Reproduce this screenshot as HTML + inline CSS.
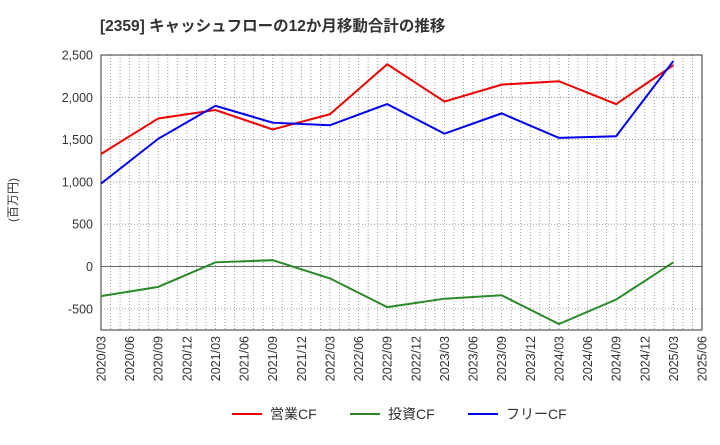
<!DOCTYPE html>
<html><head><meta charset="utf-8"><style>
body{margin:0;background:#fff;font-family:"Liberation Sans","Noto Sans CJK JP",sans-serif;}
</style></head><body>
<svg id="c" width="720" height="440" xmlns="http://www.w3.org/2000/svg">
<text x="100" y="31" font-size="15.5" font-weight="bold" fill="#333">[2359]  キャッシュフローの12か月移動合計の推移</text>
<text transform="translate(17,200) rotate(-90)" font-size="12" fill="#333" text-anchor="middle">(百万円)</text>
<g id="grid"></g><g id="axes"></g><g id="series"></g>
<g>
<line x1="232" y1="414" x2="262" y2="414" stroke="#e00" stroke-width="2"/><text x="270" y="419" font-size="14" fill="#333">営業CF</text>
<line x1="350" y1="414" x2="380" y2="414" stroke="#2a8a2a" stroke-width="2"/><text x="388" y="419" font-size="14" fill="#333">投資CF</text>
<line x1="468" y1="414" x2="498" y2="414" stroke="#00e" stroke-width="2"/><text x="506" y="419" font-size="14" fill="#333">フリーCF</text>
</g>
</svg>
<script>
const periods=["2020/03","2020/09","2021/03","2021/09","2022/03","2022/09","2023/03","2023/09","2024/03","2024/09","2025/03"];
const opCF=[1330,1750,1850,1620,1800,2390,1950,2150,2190,1920,2380];
const invCF=[-350,-240,50,75,-140,-480,-380,-340,-680,-390,50];
const freeCF=[980,1510,1900,1700,1670,1920,1570,1810,1520,1540,2430];
const yTicks=[2500,2000,1500,1000,500,0,-500];
const xTicks=["2020/03","2020/06","2020/09","2020/12","2021/03","2021/06","2021/09","2021/12","2022/03","2022/06","2022/09","2022/12","2023/03","2023/06","2023/09","2023/12","2024/03","2024/06","2024/09","2024/12","2025/03","2025/06"];
const NS="http://www.w3.org/2000/svg";
const L=101,R=702,T=55,B=330,yMax=2500,yMin=-750;
const qW=(R-L)/21;
function mIdx(p){const[a,b]=p.split("/").map(Number);return (a-2020)*12+(b-3);}
function X(p){return L+mIdx(p)/3*qW;}
function Y(v){return T+(yMax-v)/(yMax-yMin)*(B-T);}
function mk(t,a,parent){const e=document.createElementNS(NS,t);for(const k in a)e.setAttribute(k,a[k]);document.getElementById(parent).appendChild(e);return e;}
for(let m=1;m<63;m++){const x=L+m/3*qW;
const g=mk("line",{x1:x,y1:T,x2:x,y2:B,stroke:"#888","stroke-width":0.8,"stroke-dasharray":"1,2"},"grid");

}
yTicks.forEach(v=>{const y=Y(v);
const g=mk("line",{x1:L,y1:y,x2:R,y2:y,stroke:v===0?"#666":"#888","stroke-width":v===0?1:0.8,"stroke-dasharray":v===0?"":"1,2"},"grid");


const t=mk("text",{x:L-8,y:y+4.5,"font-size":12.5,fill:"#333","text-anchor":"end"},"axes");t.textContent=v.toLocaleString("en-US");

});
xTicks.forEach(p=>{const x=X(p);
const t=mk("text",{transform:`translate(${x+4.5},${B+6}) rotate(-90)`,"font-size":12.5,fill:"#333","text-anchor":"end"},"axes");t.textContent=p;

});
const fr=mk("rect",{x:L,y:T,width:R-L,height:B-T,fill:"none",stroke:"#333","stroke-width":1},"axes");


[[opCF,"#e00","operating-cf-line"],[invCF,"#2a8a2a","investing-cf-line"],[freeCF,"#00e","free-cf-line"]].forEach(([d,c,n])=>{
const pl=mk("polyline",{points:d.map((v,i)=>X(periods[i])+","+Y(v)).join(" "),fill:"none",stroke:c,"stroke-width":2},"series");

});
</script>
</body></html>
